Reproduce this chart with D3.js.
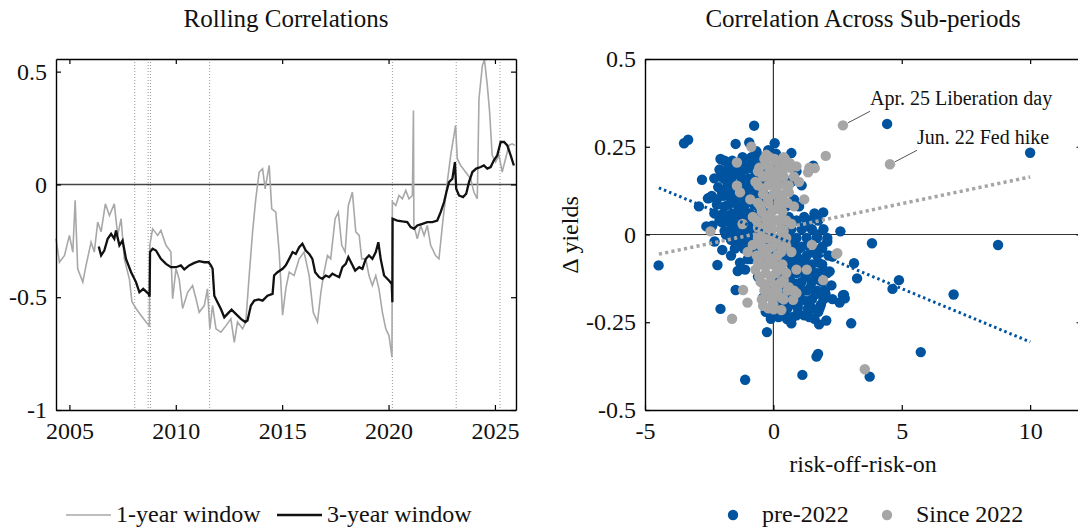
<!DOCTYPE html>
<meta charset="utf-8">
<style>
  body { margin: 0; background: #fff; }
  svg, svg text { font-family: "Liberation Serif", "DejaVu Serif", serif; }
</style>
<body>
<svg id="chart" width="1078" height="528"></svg>
<script src="https://d3js.org/d3.v7.min.js"></script>
<script>

// rolling correlations, [decimal year, correlation]
var corr1y = [[2004.37,-0.24],[2004.53,-0.345],[2004.77,-0.315],[2005.00,-0.226],[2005.16,-0.30],[2005.27,-0.07],[2005.39,-0.374],[2005.63,-0.433],[2005.78,-0.36],[2006.02,-0.256],[2006.17,-0.30],[2006.33,-0.167],[2006.49,-0.21],[2006.69,-0.086],[2006.88,-0.138],[2007.11,-0.086],[2007.27,-0.226],[2007.43,-0.152],[2007.58,-0.33],[2007.82,-0.42],[2007.94,-0.52],[2008.13,-0.55],[2008.36,-0.58],[2008.60,-0.61],[2008.76,-0.626],[2008.78,-0.27],[2008.91,-0.197],[2009.15,-0.226],[2009.30,-0.204],[2009.54,-0.27],[2009.77,-0.30],[2009.85,-0.507],[2010.01,-0.374],[2010.16,-0.42],[2010.32,-0.55],[2010.56,-0.478],[2010.79,-0.448],[2010.95,-0.507],[2011.10,-0.567],[2011.34,-0.537],[2011.49,-0.463],[2011.60,-0.64],[2011.73,-0.537],[2011.89,-0.64],[2012.12,-0.655],[2012.36,-0.626],[2012.59,-0.596],[2012.75,-0.70],[2012.90,-0.61],[2013.14,-0.64],[2013.29,-0.61],[2013.45,-0.404],[2013.61,-0.21],[2013.76,-0.064],[2013.92,0.055],[2014.08,0.07],[2014.20,-0.02],[2014.39,0.084],[2014.51,-0.108],[2014.70,-0.123],[2014.86,-0.30],[2015.02,-0.58],[2015.17,-0.463],[2015.33,-0.389],[2015.56,-0.404],[2015.80,-0.33],[2016.03,-0.30],[2016.27,-0.404],[2016.46,-0.567],[2016.66,-0.61],[2016.82,-0.478],[2016.97,-0.389],[2017.13,-0.315],[2017.28,-0.33],[2017.49,-0.152],[2017.64,-0.123],[2017.80,-0.27],[2017.96,-0.30],[2018.11,-0.093],[2018.30,-0.034],[2018.46,-0.21],[2018.62,-0.226],[2018.74,-0.33],[2018.93,-0.33],[2019.08,-0.404],[2019.24,-0.448],[2019.40,-0.404],[2019.55,-0.463],[2019.71,-0.567],[2019.87,-0.64],[2020.02,-0.67],[2020.16,-0.766],[2020.18,-0.078],[2020.34,-0.093],[2020.49,-0.049],[2020.65,-0.064],[2020.81,-0.027],[2020.96,-0.064],[2021.12,-0.049],[2021.17,0.328],[2021.19,-0.182],[2021.35,-0.241],[2021.51,-0.182],[2021.67,-0.226],[2021.82,-0.182],[2021.98,-0.27],[2022.21,-0.315],[2022.37,-0.33],[2022.53,-0.182],[2022.76,0.01],[2022.92,0.129],[2023.15,0.262],[2023.23,0.114],[2023.39,0.084],[2023.62,0.055],[2023.86,0.025],[2024.01,-0.034],[2024.17,-0.064],[2024.25,0.38],[2024.41,0.528],[2024.51,0.552],[2024.64,0.44],[2024.75,0.321],[2024.87,0.129],[2025.03,0.099],[2025.19,0.129],[2025.34,0.055],[2025.50,0.114],[2025.66,0.173],[2025.81,0.18],[2025.94,0.173]];

var corr3y = [[2006.38,-0.275],[2006.49,-0.315],[2006.64,-0.293],[2006.80,-0.241],[2006.96,-0.219],[2007.11,-0.241],[2007.19,-0.204],[2007.35,-0.27],[2007.50,-0.249],[2007.66,-0.33],[2007.90,-0.389],[2008.13,-0.433],[2008.29,-0.478],[2008.47,-0.463],[2008.72,-0.485],[2008.77,-0.497],[2008.79,-0.30],[2008.91,-0.285],[2009.07,-0.293],[2009.30,-0.33],[2009.54,-0.352],[2009.77,-0.367],[2010.01,-0.367],[2010.24,-0.359],[2010.40,-0.377],[2010.63,-0.359],[2010.87,-0.348],[2011.10,-0.34],[2011.34,-0.345],[2011.54,-0.345],[2011.65,-0.359],[2011.73,-0.374],[2011.81,-0.493],[2011.96,-0.522],[2012.12,-0.552],[2012.28,-0.589],[2012.43,-0.574],[2012.62,-0.555],[2012.82,-0.574],[2013.06,-0.596],[2013.26,-0.61],[2013.37,-0.603],[2013.53,-0.537],[2013.69,-0.515],[2013.89,-0.51],[2014.08,-0.515],[2014.31,-0.493],[2014.55,-0.485],[2014.62,-0.404],[2014.78,-0.389],[2015.02,-0.374],[2015.17,-0.359],[2015.33,-0.33],[2015.49,-0.30],[2015.64,-0.308],[2015.80,-0.278],[2015.95,-0.263],[2016.11,-0.293],[2016.27,-0.308],[2016.42,-0.33],[2016.55,-0.389],[2016.74,-0.411],[2016.89,-0.419],[2017.05,-0.404],[2017.21,-0.411],[2017.36,-0.396],[2017.52,-0.404],[2017.68,-0.411],[2017.83,-0.367],[2017.99,-0.352],[2018.11,-0.322],[2018.27,-0.352],[2018.43,-0.382],[2018.62,-0.367],[2018.77,-0.374],[2018.93,-0.33],[2019.08,-0.315],[2019.24,-0.33],[2019.40,-0.30],[2019.52,-0.256],[2019.63,-0.33],[2019.79,-0.404],[2020.02,-0.426],[2020.15,-0.441],[2020.18,-0.522],[2020.19,-0.152],[2020.41,-0.16],[2020.65,-0.164],[2020.88,-0.167],[2021.04,-0.189],[2021.20,-0.197],[2021.35,-0.182],[2021.59,-0.175],[2021.82,-0.167],[2022.06,-0.167],[2022.29,-0.16],[2022.45,-0.123],[2022.61,-0.078],[2022.72,-0.034],[2022.84,0.01],[2023.00,0.025],[2023.12,0.099],[2023.18,-0.019],[2023.31,-0.049],[2023.50,-0.056],[2023.65,-0.041],[2023.78,0.01],[2023.94,0.055],[2024.12,0.07],[2024.33,0.077],[2024.48,0.084],[2024.64,0.07],[2024.80,0.077],[2024.95,0.107],[2025.11,0.129],[2025.27,0.188],[2025.43,0.188],[2025.58,0.173],[2025.74,0.129],[2025.89,0.084]];

// dotted event markers
var eventYears = [2008.07, 2008.70, 2008.81, 2011.59, 2020.18, 2023.18, 2025.24];

var yearTicks = [2005, 2010, 2015, 2020, 2025];
var corrTicks = [-1, -0.5, 0, 0.5];

// scatter: [risk-off-risk-on, change in yields]
var pre2022 = [[-0.75,0.31],[-3.48,0.26],[-3.32,0.27],[4.43,0.315],[10.0,0.233],[-4.47,-0.088],[-2.06,0.215],[-2.78,0.156],[-2.90,0.08],[-2.55,0.103],[-2.61,0.023],[-2.38,0.025],[-2.29,-0.02],[-1.99,-0.044],[-2.18,-0.087],[-1.39,-0.104],[-2.06,-0.212],[-1.47,-0.158],[-0.25,-0.278],[-1.10,-0.414],[1.13,-0.40],[1.68,-0.348],[1.74,-0.34],[3.75,-0.405],[3.03,-0.253],[2.06,-0.245],[1.78,-0.256],[0.70,-0.253],[0.53,-0.241],[-0.08,-0.232],[2.61,0.009],[3.84,-0.025],[4.64,-0.155],[4.89,-0.13],[3.14,-0.082],[3.26,-0.125],[2.75,-0.172],[2.58,-0.194],[2.30,-0.184],[2.03,-0.169],[2.26,-0.145],[2.19,-0.105],[2.30,-0.063],[1.94,0.063],[1.55,0.196],[0.70,0.232],[0.05,0.26],[-0.94,0.262],[-1.47,0.258],[-1.57,0.203],[-0.99,0.213],[-0.66,0.237],[-2.51,0.104],[-2.05,0.165],[-1.64,0.163],[8.75,-0.03],[7.02,-0.171],[5.74,-0.335],[2.71,-0.173],[2.78,-0.182],
  [-2.0,0.12],[-1.9,0.08],[-1.8,0.15],[-1.75,0.05],[-1.7,0.11],[-1.6,0.18],[-1.6,0.02],[-1.5,0.09],[-1.5,0.14],[-1.45,-0.03],[-1.4,0.05],[-1.35,0.12],[-1.3,0.17],[-1.25,0.0],[-1.2,0.08],[-1.2,0.13],[-1.15,0.2],[-1.1,0.04],[-1.05,0.1],[-1.0,0.15],[-1.0,-0.02],[-0.95,0.06],[-0.9,0.12],[-0.9,0.19],[-0.85,0.02],[-0.8,0.09],[-0.8,0.16],[-0.75,-0.04],[-0.7,0.05],[-0.7,0.12],[-0.65,0.2],[-0.6,0.0],[-0.6,0.08],[-0.55,0.15],[-0.5,-0.06],[-0.5,0.04],[-0.45,0.11],[-0.4,0.22],[-1.85,0.0],[-2.1,0.04],[-1.65,-0.06],[-1.3,-0.08],[-1.1,-0.1],[-0.9,-0.07],[-1.4,0.2],[-1.7,0.19],[-2.2,0.1],[-1.95,0.17],[-1.2,0.22],[-0.85,0.22],[-0.3,0.18],[-0.2,0.24],[0.1,0.23],[0.2,0.2],[-1.6,0.12],[-1.35,0.07],[-1.0,0.05],[-0.7,0.0],
  [-1.9,0.21],[-1.6,0.21],[-1.0,0.21],[-0.6,0.21],
  [-2.1,0.185],[-1.8,0.185],[-1.45,0.185],[-1.1,0.185],[-0.75,0.185],[-0.45,0.185],
  [-2.3,0.16],[-1.95,0.16],[-1.65,0.16],[-1.25,0.16],[-0.95,0.16],[-0.6,0.16],[-0.35,0.16],
  [-2.15,0.135],[-1.8,0.135],[-1.45,0.135],[-1.1,0.135],[-0.75,0.135],[-0.5,0.135],
  [-2.4,0.11],[-1.95,0.11],[-1.6,0.11],[-1.25,0.11],[-0.95,0.11],[-0.6,0.11],[-0.3,0.11],
  [-2.2,0.085],[-1.75,0.085],[-1.4,0.085],[-1.1,0.085],[-0.75,0.085],[-0.45,0.085],
  [-2.3,0.06],[-1.95,0.06],[-1.6,0.06],[-1.25,0.06],[-0.9,0.06],[-0.55,0.06],[-0.25,0.06],
  [-2.0,0.035],[-1.7,0.035],[-1.35,0.035],[-1.05,0.035],[-0.7,0.035],[-0.4,0.035],
  [-1.9,0.01],[-1.5,0.01],[-1.15,0.01],[-0.8,0.01],[-0.5,0.01],
  [-1.65,-0.015],[-1.3,-0.015],[-0.95,-0.015],[-0.6,-0.015],[-0.3,-0.015],
  [-1.5,-0.04],[-1.15,-0.04],[-0.8,-0.04],[-0.45,-0.04],
  [-1.0,-0.07],[-0.6,-0.07],[-0.25,-0.07],
  [0.1,-0.05],[0.2,-0.12],[0.3,-0.02],[0.35,-0.18],[0.4,-0.08],[0.5,-0.14],[0.55,0.0],[0.6,-0.2],[0.65,-0.06],[0.7,-0.11],[0.75,-0.17],[0.8,-0.02],[0.85,-0.08],[0.9,-0.14],[0.95,-0.2],[1.0,-0.04],[1.05,-0.1],[1.1,-0.16],[1.15,0.02],[1.2,-0.07],[1.25,-0.12],[1.3,-0.19],[1.35,-0.03],[1.4,-0.09],[1.45,-0.15],[1.5,-0.21],[1.55,-0.05],[1.6,-0.11],[1.65,-0.17],[1.7,0.0],[1.75,-0.08],[1.8,-0.13],[1.85,-0.2],[1.9,-0.04],[1.95,-0.1],[2.0,-0.16],[1.2,0.05],[1.0,0.08],[0.8,0.1],[1.4,0.04],[1.6,0.06],[0.6,0.05],[0.45,-0.23],[0.9,-0.23],[1.2,-0.23],[1.6,-0.24],[0.3,-0.2],[0.1,-0.17],[2.1,-0.02],[1.75,-0.22],[0.5,0.08],[0.25,0.1],[0.7,0.15],[0.9,0.18],[1.1,0.14],[0.4,0.16],[-0.2,-0.15],[-0.4,-0.18],[-0.6,-0.12],[-0.3,-0.22],[-0.1,-0.24],
  [0.5,0.04],[0.9,0.04],[1.3,0.04],[1.75,0.04],
  [0.3,0.015],[0.7,0.015],[1.1,0.015],[1.5,0.015],[1.95,0.015],
  [0.5,-0.01],[0.9,-0.01],[1.3,-0.01],[1.7,-0.01],[2.1,-0.01],
  [0.3,-0.035],[0.7,-0.035],[1.1,-0.035],[1.5,-0.035],[1.9,-0.035],
  [0.5,-0.06],[0.9,-0.06],[1.3,-0.06],[1.7,-0.06],[2.15,-0.06],
  [0.3,-0.085],[0.7,-0.085],[1.1,-0.085],[1.5,-0.085],[1.9,-0.085],
  [0.5,-0.11],[0.9,-0.11],[1.3,-0.11],[1.7,-0.11],[2.1,-0.11],
  [0.3,-0.135],[0.7,-0.135],[1.1,-0.135],[1.5,-0.135],[1.9,-0.135],
  [0.5,-0.16],[0.9,-0.16],[1.3,-0.16],[1.7,-0.16],
  [0.3,-0.185],[0.7,-0.185],[1.1,-0.185],[1.5,-0.185],[1.95,-0.185],
  [0.55,-0.21],[0.95,-0.21],[1.35,-0.21],[1.8,-0.21],
  [0.2,-0.235],[0.75,-0.235],[1.4,-0.235]];

var since2022 = [[2.71,0.311],[4.54,0.20],[2.04,0.224],[2.49,-0.053],[-1.61,-0.24],[-1.01,-0.194],[-0.40,-0.203],[0.01,-0.213],[0.31,-0.215],[-2.45,0.009],[-1.42,0.139],[-1.42,0.205],[-0.86,0.25],[-0.27,0.227],[1.61,0.189],[1.35,0.177],[0.90,0.194],[0.64,0.203],[3.56,-0.384],[1.94,-0.13],[-1.18,-0.158],[0.77,-0.186],[0.90,-0.167],[2.45,-0.056],
  [-0.3,0.2],[0.0,0.18],[-0.1,0.15],[0.2,0.16],[-0.4,0.13],[0.1,0.12],[-0.2,0.1],[0.3,0.1],[-0.5,0.08],[0.0,0.07],[-0.3,0.05],[0.2,0.04],[-0.6,0.02],[-0.1,0.02],[0.4,0.01],[-0.4,-0.01],[0.1,-0.02],[-0.2,-0.04],[0.3,-0.05],[-0.5,-0.06],[0.0,-0.08],[-0.3,-0.09],[0.2,-0.1],[-0.1,-0.12],[0.4,-0.13],[-0.4,-0.14],[0.1,-0.15],[-0.2,-0.17],[0.3,-0.18],[0.0,-0.2],[-0.8,-0.03],[-0.9,0.1],[-0.7,0.15],[0.6,0.12],[0.8,0.08],[0.5,0.2],[0.7,-0.05],[0.9,-0.1],[-0.7,-0.1],[-1.0,-0.05],[0.6,-0.15],[-0.6,0.18],[0.1,0.21],[-0.15,0.22],[0.4,0.22],[1.0,0.15],[1.2,0.1],[-1.2,0.03],[-0.8,0.05],[0.5,-0.03],[0.3,0.07],[-0.35,-0.16],[0.15,-0.06],[-0.05,0.04],[0.05,0.14],[-0.25,0.17],[0.25,-0.14],[-0.45,0.02],[0.5,0.14],[0.7,0.03],[-0.55,-0.12],[1.4,0.19],[1.3,-0.1],[1.5,-0.03],[-1.3,0.12],[0.0,-0.17],[-0.15,-0.08],[0.35,0.18],[-0.6,-0.08],[0.8,-0.16],
  [-0.35,0.215],[0.05,0.215],[0.45,0.215],
  [-0.55,0.19],[-0.15,0.19],[0.25,0.19],[0.65,0.19],
  [-0.4,0.165],[0.0,0.165],[0.4,0.165],[0.8,0.165],
  [-0.6,0.14],[-0.2,0.14],[0.2,0.14],[0.6,0.14],
  [-0.4,0.115],[0.0,0.115],[0.4,0.115],
  [-0.6,0.09],[-0.2,0.09],[0.2,0.09],[0.55,0.09],
  [-0.45,0.065],[-0.05,0.065],[0.35,0.065],
  [-0.65,0.04],[-0.25,0.04],[0.15,0.04],[0.5,0.04],
  [-0.45,0.015],[-0.05,0.015],[0.3,0.015],
  [-0.6,-0.01],[-0.25,-0.01],[0.15,-0.01],[0.5,-0.01],
  [-0.45,-0.035],[-0.05,-0.035],[0.3,-0.035],
  [-0.65,-0.06],[-0.25,-0.06],[0.15,-0.06],
  [-0.45,-0.085],[-0.05,-0.085],[0.35,-0.085],
  [-0.3,-0.11],[0.1,-0.11],[0.5,-0.11],
  [-0.5,-0.135],[-0.1,-0.135],[0.3,-0.135],
  [-0.25,-0.16],[0.15,-0.16],[0.55,-0.16],
  [-0.45,-0.185],[-0.05,-0.185],[0.4,-0.185],
  [-0.2,-0.21]];

// fitted lines, read at both ends
var fitX = [-4.46, 10];
var fitPre = [0.133, -0.306];
var fitPost = [-0.056, 0.164];

var annPoints = [[2.71, 0.311], [4.54, 0.20]];
var annLabels = ["Apr. 25 Liberation day", "Jun. 22 Fed hike"];

var riskTicks = [-5, 0, 5, 10];
var yieldTicks = [-0.5, -0.25, 0, 0.25, 0.5];

var blue = "#00539f", grey = "#a6a6a6";
var serif = "Liberation Serif";
var fs = 24;

var svg = d3.select("#chart");

function fmt(d) { return String(d); }

function boxAxes(g, x, y, xt, yt, w, h) {
  g.append("g").attr("transform", "translate(0," + h + ")")
    .call(d3.axisBottom(x).tickValues(xt).tickFormat(fmt).tickSize(-5).tickSizeOuter(0).tickPadding(12));
  g.append("g")
    .call(d3.axisTop(x).tickValues(xt).tickFormat("").tickSize(-5).tickSizeOuter(0));
  g.append("g")
    .call(d3.axisLeft(y).tickValues(yt).tickFormat(fmt).tickSize(-5).tickSizeOuter(0).tickPadding(9));
  g.append("g").attr("transform", "translate(" + w + ",0)")
    .call(d3.axisRight(y).tickValues(yt).tickFormat("").tickSize(-5).tickSizeOuter(0));
  g.selectAll("g").attr("font-family", serif);
  g.selectAll(".domain").attr("stroke", "#000").attr("stroke-width", 1.4);
  g.selectAll(".tick line").attr("stroke", "#000").attr("stroke-width", 1.2);
  g.selectAll(".tick text").attr("font-family", serif).attr("font-size", fs).attr("fill", "#111");
}

function label(x, y, txt, size, anchor) {
  return svg.append("text").attr("x", x).attr("y", y).attr("font-family", serif)
    .attr("font-size", size).attr("text-anchor", anchor || "start").attr("fill", "#111").text(txt);
}

// ---------- left: rolling correlations
var L = {x: 56, y: 59, w: 460, h: 351};
var gl = svg.append("g").attr("transform", "translate(" + L.x + "," + L.y + ")");
var xl = d3.scaleLinear().domain([2004.37, 2025.99]).range([0, L.w]);
var yl = d3.scaleLinear().domain([-1, 0.556]).range([L.h, 0]);

gl.selectAll(".event").data(eventYears).enter().append("line")
  .attr("x1", d => xl(d)).attr("x2", d => xl(d)).attr("y1", 0).attr("y2", L.h)
  .attr("stroke", "#999").attr("stroke-width", 1).attr("stroke-dasharray", "1,2");

gl.append("line").attr("x1", 0).attr("x2", L.w).attr("y1", yl(0)).attr("y2", yl(0))
  .attr("stroke", "#444").attr("stroke-width", 1.5);

var line = d3.line().x(d => xl(d[0])).y(d => yl(d[1]));
gl.append("path").datum(corr1y).attr("d", line).attr("fill", "none")
  .attr("stroke", "#a8a8a8").attr("stroke-width", 1.6);
gl.append("path").datum(corr3y).attr("d", line).attr("fill", "none")
  .attr("stroke", "#111").attr("stroke-width", 2.3);

boxAxes(gl, xl, yl, yearTicks, corrTicks, L.w, L.h);

label(L.x + L.w / 2, 27, "Rolling Correlations", 25, "middle");

// legend left
var legL = [{label: "1-year window", color: "#a8a8a8", w: 1.6, x: 66}, {label: "3-year window", color: "#111", w: 2.3, x: 277}];
legL.forEach(function (d) {
  svg.append("line").attr("x1", d.x).attr("x2", d.x + 45).attr("y1", 515).attr("y2", 515)
    .attr("stroke", d.color).attr("stroke-width", d.w);
  label(d.x + 50, 522, d.label, fs);
});

// ---------- right: scatter
var R = {x: 645, y: 59, w: 436.5, h: 351};
var gr = svg.append("g").attr("transform", "translate(" + R.x + "," + R.y + ")");
var xr = d3.scaleLinear().domain([-5, 12]).range([0, R.w]);
var yr = d3.scaleLinear().domain([-0.5, 0.5]).range([R.h, 0]);

gr.append("line").attr("x1", xr(0)).attr("x2", xr(0)).attr("y1", 0).attr("y2", R.h)
  .attr("stroke", "#333").attr("stroke-width", 1.2);
gr.append("line").attr("x1", 0).attr("x2", R.w).attr("y1", yr(0)).attr("y2", yr(0))
  .attr("stroke", "#333").attr("stroke-width", 1.2);

gr.selectAll(".pre").data(pre2022).enter().append("circle")
  .attr("cx", d => xr(d[0])).attr("cy", d => yr(d[1])).attr("r", 5.2).attr("fill", blue);
gr.selectAll(".post").data(since2022).enter().append("circle")
  .attr("cx", d => xr(d[0])).attr("cy", d => yr(d[1])).attr("r", 5.2).attr("fill", grey);

gr.append("line").attr("x1", xr(fitX[0])).attr("x2", xr(fitX[1]))
  .attr("y1", yr(fitPre[0])).attr("y2", yr(fitPre[1]))
  .attr("stroke", blue).attr("stroke-width", 3).attr("stroke-dasharray", "2.5,3");
gr.append("line").attr("x1", xr(fitX[0])).attr("x2", xr(fitX[1]))
  .attr("y1", yr(fitPost[0])).attr("y2", yr(fitPost[1]))
  .attr("stroke", grey).attr("stroke-width", 3.5).attr("stroke-dasharray", "3.2,3.2");

annPoints.forEach(function (p, i) {
  var px = xr(p[0]), py = yr(p[1]);
  gr.append("line").attr("x1", px + 5).attr("y1", py - 2.5).attr("x2", px + 27).attr("y2", py - 14)
    .attr("stroke", "#555").attr("stroke-width", 1);
  label(R.x + px + 27, R.y + py - 20.5, annLabels[i], 20);
});

boxAxes(gr, xr, yr, riskTicks, yieldTicks, R.w, R.h);

label(863, 27, "Correlation Across Sub-periods", 25, "middle");
label(863, 472, "risk-off-risk-on", fs, "middle");
label(0, 0, "\u0394 yields", fs, "middle").attr("transform", "translate(578,235) rotate(-90)");

// legend right
var legR = [{label: "pre-2022", color: blue, x: 733}, {label: "Since 2022", color: grey, x: 887}];
legR.forEach(function (d) {
  svg.append("circle").attr("cx", d.x).attr("cy", 515).attr("r", 5.2).attr("fill", d.color);
  label(d.x + 29, 522, d.label, fs);
});

</script>
</body>
